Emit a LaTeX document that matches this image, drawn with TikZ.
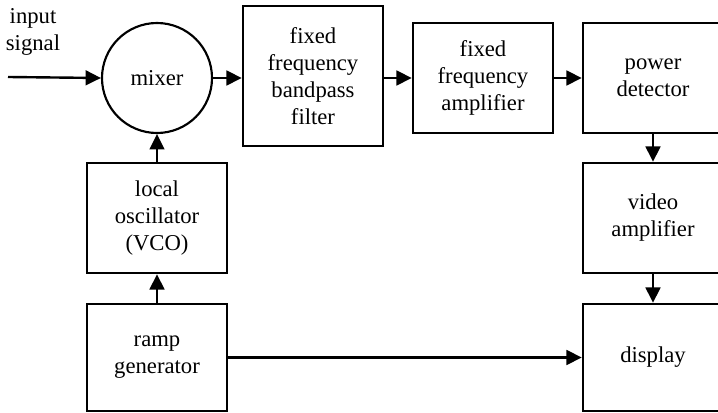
\documentclass[tikz,border=0pt]{standalone}
\usepackage{fontspec}
\setmainfont{Liberation Serif}
\usetikzlibrary{arrows.meta}
\begin{document}
\begin{tikzpicture}[x=0.75pt,y=-0.75pt,
  every node/.style={font=\fontsize{17}{20.3}\selectfont, align=center},
  blk/.style={draw, line width=1.8pt, rectangle, inner sep=0pt, minimum width=105pt},
  mix/.style={draw, line width=1.6pt, circle, inner sep=0pt, minimum size=82.5pt},
  conn/.style={line width=1.8pt, -{Triangle[length=11.5pt,width=11pt]}}]
\useasboundingbox (0,0) rectangle (718,413);
\node (lbl) at (33,32) {input\\signal};
\coordinate (in) at (8,77);
\node[mix] (mixer) at (157,78) {mixer};
\node[blk, minimum height=105pt] (bpf) at (313,76) {fixed\\frequency\\bandpass\\filter};
\node[blk, minimum height=82.5pt] (amp) at (483,78) {fixed\\frequency\\amplifier};
\node[blk, minimum height=82.5pt] (det) at (653,78) {power\\detector};
\node[blk, minimum height=82.5pt] (lo) at (157,218) {local\\oscillator\\(VCO)};
\node[blk, minimum height=80.25pt] (ramp) at (157,357.5) {ramp\\generator};
\node[blk, minimum height=82.5pt] (video) at (653,218) {video\\amplifier};
\node[blk, minimum height=80.25pt] (disp) at (653,357.5) {display};
\draw[conn] (in) -- (mixer.west);
\draw[conn] (mixer.east) -- (mixer.east -| bpf.west);
\draw[conn] (bpf.east |- amp.west) -- (amp.west);
\draw[conn] (amp.east) -- (det.west);
\draw[conn] (det.south) -- (video.north);
\draw[conn] (video.south) -- (disp.north);
\draw[conn] (lo.north) -- (mixer.south);
\draw[conn] (ramp.north) -- (lo.south);
\draw[conn] (ramp.east) -- (disp.west);
\end{tikzpicture}
\end{document}
